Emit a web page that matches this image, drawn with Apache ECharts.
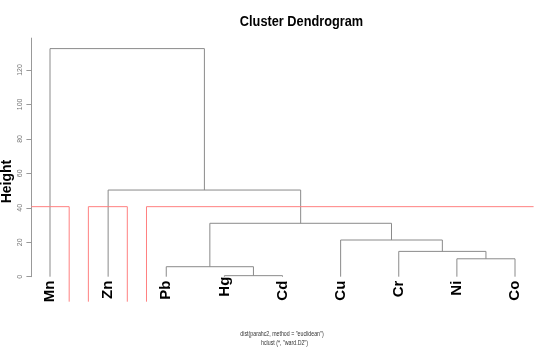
<!DOCTYPE html>
<html>
<head>
<meta charset="utf-8">
<script src="https://cdn.jsdelivr.net/npm/echarts@6/dist/echarts.min.js"></script>
<style>html,body{margin:0;padding:0;background:#fff;}#c{width:550px;height:350px;}</style>
</head>
<body>
<div id="c"></div>
<script>
// Leaf labels in dendrogram order
const labels = ['Mn', 'Zn', 'Pb', 'Hg', 'Cd', 'Cu', 'Cr', 'Ni', 'Co'];
// Merge table (R hclust convention): negative = leaf position, positive = earlier merge step
const mergeA = [-4, -8, -3, -7, -6, 3, -2, -1];
const mergeB = [-5, -9, 1, 2, 4, 5, 6, 7];
const mergeHeight = [0.6, 10.4, 5.8, 14.7, 21.3, 31.0, 50.3, 132.4];
// rect.hclust(k = 3) clusters: first and last leaf position
const clusterFirst = [1, 2, 3];
const clusterLast = [1, 2, 9];
const yTicks = [0, 20, 40, 60, 80, 100, 120];
const leafTicks = [1, 2, 3, 4, 5, 6, 7, 8, 9];
const titleText = 'Cluster Dendrogram';
const subText1 = 'dist(parahc2, method = "euclidean")';
const subText2 = 'hclust (*, "ward.D2")';
const yName = 'Height';

const X_MIN = 0.68, X_MAX = 9.32, Y_MAX = 138.5, Y_PLOT_BOTTOM = -14.5;

// positions of nodes
const nodeX = [], nodeH = [];
function posOf(id) { return id < 0 ? [-id, 0] : [nodeX[id - 1], nodeH[id - 1]]; }
const dendroData = [];
for (let i = 0; i < mergeA.length; i++) {
  const a = posOf(mergeA[i]), b = posOf(mergeB[i]);
  nodeX.push((a[0] + b[0]) / 2);
  nodeH.push(mergeHeight[i]);
  dendroData.push([a[0], a[1], b[0], b[1], mergeHeight[i]]);
}
const sortedH = mergeHeight.slice().sort((p, q) => q - p);
const k = clusterFirst.length;
const cutHeight = (sortedH[k - 2] + sortedH[k - 1]) / 2;
const rectData = clusterFirst.map((f, i) => [f - 0.34, clusterLast[i] + 0.33, cutHeight, Y_PLOT_BOTTOM]);

const FONT = '"Liberation Sans", Arial, sans-serif';
const chart = echarts.init(document.getElementById('c'), null, { renderer: 'canvas' });
const option = {
  animation: false,
  backgroundColor: '#ffffff',
  graphic: [
    { type: 'text', x: 301.5, y: 14, scaleX: 0.85,
      style: { text: titleText, align: 'center', verticalAlign: 'top', fill: '#000',
        font: 'bold 15px ' + FONT } },
    { type: 'text', x: 282, y: 330.5, scaleX: 0.75,
      style: { text: subText1, align: 'center', verticalAlign: 'top', fill: '#333',
        font: '7px ' + FONT } },
    { type: 'text', x: 284.5, y: 339.5, scaleX: 0.75,
      style: { text: subText2, align: 'center', verticalAlign: 'top', fill: '#333',
        font: '7px ' + FONT } },
    { type: 'text', x: 7, y: 181.5, rotation: Math.PI / 2,
      style: { text: yName, align: 'center', verticalAlign: 'middle', fill: '#000',
        font: 'bold 14px ' + FONT } }
  ],
  grid: { left: 31.4, right: 16.4, top: 38.1, bottom: 73.3, containLabel: false },
  xAxis: {
    type: 'value', min: X_MIN, max: X_MAX,
    axisLine: { show: false }, axisTick: { show: false }, splitLine: { show: false },
    axisLabel: {
      customValues: leafTicks, rotate: 90, margin: 0,
      formatter: v => { const n = labels[Math.round(v) - 1]; return n === 'Hg' ? '{h|' + n + '}' : '{n|' + n + '}'; },
      rich: {
        n: { fontFamily: FONT, fontWeight: 'bold', fontSize: 15, color: '#000', padding: [0, 4, 0, 0] },
        h: { fontFamily: FONT, fontWeight: 'bold', fontSize: 15, color: '#000', padding: [0, 0, 0, 0] }
      }
    }
  },
  yAxis: {
    type: 'value', min: 0, max: Y_MAX,
    axisLine: { show: true, lineStyle: { color: '#999', width: 1 } },
    axisTick: { show: true, customValues: yTicks, length: 5, lineStyle: { color: '#999' } },
    axisLabel: { customValues: yTicks, rotate: 90, margin: 8, fontSize: 7, color: '#777', fontFamily: FONT },
    splitLine: { show: false }
  },
  series: [
    {
      type: 'custom', name: 'tree', clip: false, data: dendroData,
      renderItem: function (params, api) {
        const pts = [
          api.coord([api.value(0), api.value(1)]),
          api.coord([api.value(0), api.value(4)]),
          api.coord([api.value(2), api.value(4)]),
          api.coord([api.value(2), api.value(3)])
        ];
        return { type: 'polyline', shape: { points: pts }, style: { stroke: '#8a8a8a', fill: null, lineWidth: 1 } };
      }
    },
    {
      type: 'custom', name: 'clusters', clip: false, data: rectData,
      renderItem: function (params, api) {
        const l = api.value(0), r = api.value(1), t = api.value(2), b = api.value(3);
        const children = [];
        const st = { stroke: '#ff8080', fill: null, lineWidth: 1 };
        const lc = Math.max(l, X_MIN), rc = Math.min(r, X_MAX);
        const a1 = api.coord([lc, t]), a2 = api.coord([rc, t]);
        children.push({ type: 'line', shape: { x1: a1[0], y1: a1[1], x2: a2[0], y2: a2[1] }, style: st });
        if (l >= X_MIN) { const p1 = api.coord([l, t]), p2 = api.coord([l, b]); children.push({ type: 'line', shape: { x1: p1[0], y1: p1[1], x2: p2[0], y2: p2[1] }, style: st }); }
        if (r <= X_MAX) { const p1 = api.coord([r, t]), p2 = api.coord([r, b]); children.push({ type: 'line', shape: { x1: p1[0], y1: p1[1], x2: p2[0], y2: p2[1] }, style: st }); }
        return { type: 'group', children: children };
      }
    }
  ]
};
chart.setOption(option);
</script>
</body>
</html>
